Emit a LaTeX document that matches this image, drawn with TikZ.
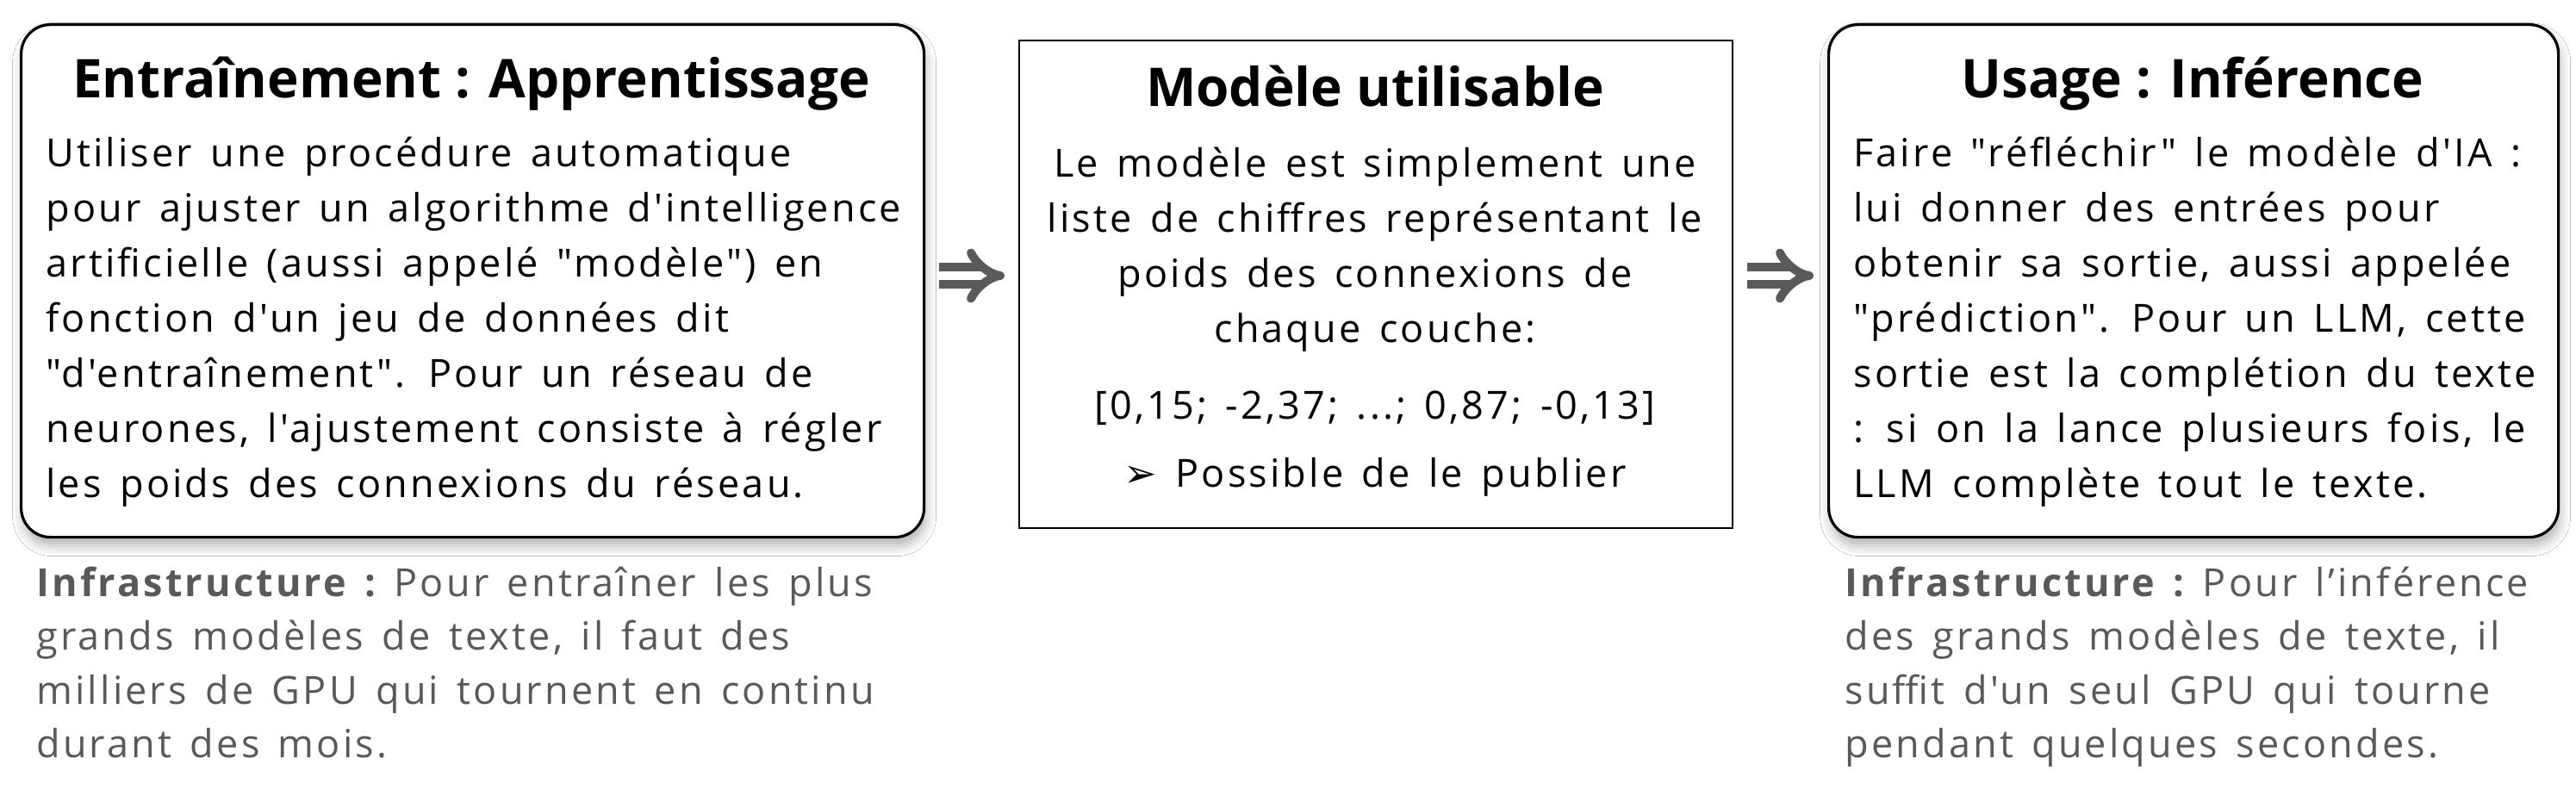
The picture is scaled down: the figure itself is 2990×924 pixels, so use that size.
\documentclass[tikz,border=0pt]{standalone}
\usepackage{fontspec}
\newfontfamily\osans{Open Sans}[LetterSpace=7,WordSpace=1.45]
\newfontfamily\otitle{Open Sans}
\newfontfamily\djv{DejaVu Sans}
\usetikzlibrary{shadows.blur,arrows.meta}
\definecolor{infogray}{HTML}{595959}
\definecolor{arrowgray}{HTML}{5A5A5A}
\begin{document}
\begin{tikzpicture}[x=0.5pt,y=-0.5pt,
  roundbox/.style={draw=black, line width=1.6pt, rounded corners=17pt, fill=white, inner sep=0pt, anchor=north west,
    blur shadow={shadow xshift=1pt, shadow yshift=-5pt, shadow blur radius=6pt, shadow opacity=30}},
  sqbox/.style={draw=black, line width=1.2pt, fill=white, inner sep=0pt, anchor=north west},
  titletext/.style={font=\otitle\fontsize{31}{36}\selectfont\bfseries, inner sep=0pt, anchor=base},
  bodytext/.style={font=\osans\fontsize{22.5}{32}\selectfont, inner sep=0pt, align=left, anchor=north west},
  midtext/.style={font=\osans\fontsize{22.5}{32}\selectfont, inner sep=0pt, align=center, anchor=north},
  infotext/.style={font=\osans\fontsize{22.5}{31.2}\selectfont, text=infogray, inner sep=0pt, align=left, anchor=north west},
  flow/.style={draw=arrowgray, line width=5pt, double=white, double distance=5pt, -{Implies}},
]
\useasboundingbox (0,0) rectangle (2990,924);
\fill[white] (0,0) rectangle (2990,924);

% boxes
\node[roundbox, minimum width=524pt, minimum height=297.5pt] (train) at (23,27) {};
\node[sqbox, minimum width=414pt, minimum height=283pt] (model) at (1182,46) {};
\node[roundbox, minimum width=423.5pt, minimum height=297.5pt] (infer) at (2121,27) {};

% titles
\node[titletext] (traintitle) at (547,114) {Entraînement : Apprentissage};
\node[titletext] (modeltitle) at (1596,124) {Modèle utilisable};
\node[titletext] (infertitle) at (2545,114) {Usage : Inférence};

% bodies
\node[bodytext] (trainbody) at (53,148.2) {\strut Utiliser une procédure automatique\\
pour ajuster un algorithme d'intelligence\\
artificielle (aussi appelé "modèle") en\\
fonction d'un jeu de données dit\\
"d'entraînement". Pour un réseau de\\
neurones, l'ajustement consiste à régler\\
les poids des connexions du réseau.};

\node[midtext] (modelbody) at (1596,160.2) {\strut Le modèle est simplement une\\
liste de chiffres représentant le\\
poids des connexions de\\
chaque couche:\\[12.5pt]
[0,15; -2,37; ...; 0,87; -0,13]\\[7.5pt]
{\djv\fontsize{23}{26}\selectfont ➢} Possible de le publier};

\node[bodytext] (inferbody) at (2151,148.2) {\strut Faire "réfléchir" le modèle d'IA :\\
lui donner des entrées pour\\
obtenir sa sortie, aussi appelée\\
"prédiction". Pour un LLM, cette\\
sortie est la complétion du texte\\
: si on la lance plusieurs fois, le\\
LLM complète tout le texte.};

% infrastructure notes
\node[infotext] (traininfo) at (42,648.2) {\strut\textbf{Infrastructure :}\hspace{9pt}Pour entraîner les plus\\
grands modèles de texte, il faut des\\
milliers de GPU qui tournent en continu\\
durant des mois.};

\node[infotext] (inferinfo) at (2141,648.2) {\strut\textbf{Infrastructure :}\hspace{9pt}Pour l’inférence\\
des grands modèles de texte, il\\
suffit d'un seul GPU qui tourne\\
pendant quelques secondes.};

% arrows
\coordinate (ay) at (0,320);
\draw[flow, shorten <=8pt, shorten >=8pt] (train.east |- ay) -- (model.west |- ay);
\draw[flow, shorten <=8pt, shorten >=8pt] (model.east |- ay) -- (infer.west |- ay);
\end{tikzpicture}
\end{document}
